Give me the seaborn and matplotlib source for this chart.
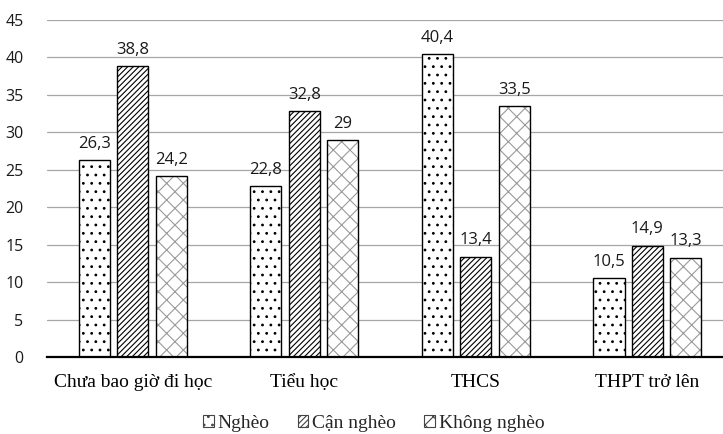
import matplotlib
matplotlib.use("Agg")
import matplotlib.pyplot as plt
import seaborn as sns
import pandas as pd
from matplotlib.patches import Rectangle

categories = ["Chưa bao giờ đi học", "Tiểu học", "THCS", "THPT trở lên"]
series = ["Nghèo", "Cận nghèo", "Không nghèo"]
ngheo = [26.3, 22.8, 40.4, 10.5]
can_ngheo = [38.8, 32.8, 13.4, 14.9]
khong_ngheo = [24.2, 29.0, 33.5, 13.3]
yticks = [0, 5, 10, 15, 20, 25, 30, 35, 40, 45]

rows = []
for name, vals in zip(series, [ngheo, can_ngheo, khong_ngheo]):
    for c, v in zip(categories, vals):
        rows.append({"cat": c, "grp": name, "val": v})
df = pd.DataFrame(rows)

sns.set_theme(style="white")
plt.rcParams["hatch.linewidth"] = 0.8
sans = ["Open Sans", "DejaVu Sans"]
serif = ["Liberation Serif", "DejaVu Serif"]

fig = plt.figure(figsize=(7.23, 4.34), dpi=100)
ax = fig.add_axes([0.065, 0.177, 0.949, 0.777])

sns.barplot(data=df, x="cat", y="val", hue="grp", order=categories,
            hue_order=series, width=0.671, gap=0.19, palette=["white"] * 3,
            edgecolor="black", linewidth=1.0, legend=False, ax=ax, zorder=3)

hatches = {"Nghèo": "..", "Cận nghèo": "//////", "Không nghèo": "xx"}
hcolors = {"Nghèo": "black", "Cận nghèo": "black", "Không nghèo": "#9a9a9a"}

for container, name in zip(ax.containers, series):
    for bar in container:
        bar.set_hatch(hatches[name])
        bar.set_edgecolor(hcolors[name])
        bar.set_linewidth(0)
        # crisp black outline on top of the hatched fill
        ax.add_patch(Rectangle((bar.get_x(), bar.get_y()), bar.get_width(),
                               bar.get_height(), fill=False, edgecolor="black",
                               linewidth=1.0, zorder=4))
    labels = [f"{v:g}".replace(".", ",") for v in container.datavalues]
    ax.bar_label(container, labels=labels, padding=6, fontsize=12,
                 family=sans, color="#1a1a1a")

ax.set_ylim(0, 45)
ax.set_xlim(-0.5, 3.5)
ax.set_yticks(yticks)
ax.yaxis.grid(True, color="#a6a6a6", linewidth=0.9, zorder=0)
ax.set_axisbelow(True)
for s in ["top", "right", "left"]:
    ax.spines[s].set_visible(False)
ax.spines["bottom"].set_color("black")
ax.spines["bottom"].set_linewidth(1.6)
ax.spines["bottom"].set_zorder(5)
ax.set_xlabel("")
ax.set_ylabel("")
ax.tick_params(axis="y", length=0, pad=17)
ax.tick_params(axis="x", length=0, pad=12)
for t in ax.get_yticklabels():
    t.set_family(sans)
    t.set_fontsize(11.5)
    t.set_color("#1a1a1a")
for t in ax.get_xticklabels():
    t.set_family(serif)
    t.set_fontsize(14)
    t.set_color("black")

leg_handles = []
for n in series:
    leg_handles.append(Rectangle((0, 0), 1, 1, facecolor="white",
                                 edgecolor="#444444", hatch=hatches[n],
                                 linewidth=0.8))
fig.legend(leg_handles, series, loc="center", bbox_to_anchor=(0.517, 0.024),
           ncol=3, frameon=False, prop={"family": serif, "size": 14},
           handlelength=0.55, handleheight=0.55, handletextpad=0.2,
           columnspacing=1.45, borderpad=0.1)

fig.savefig("out.png", dpi=100)
